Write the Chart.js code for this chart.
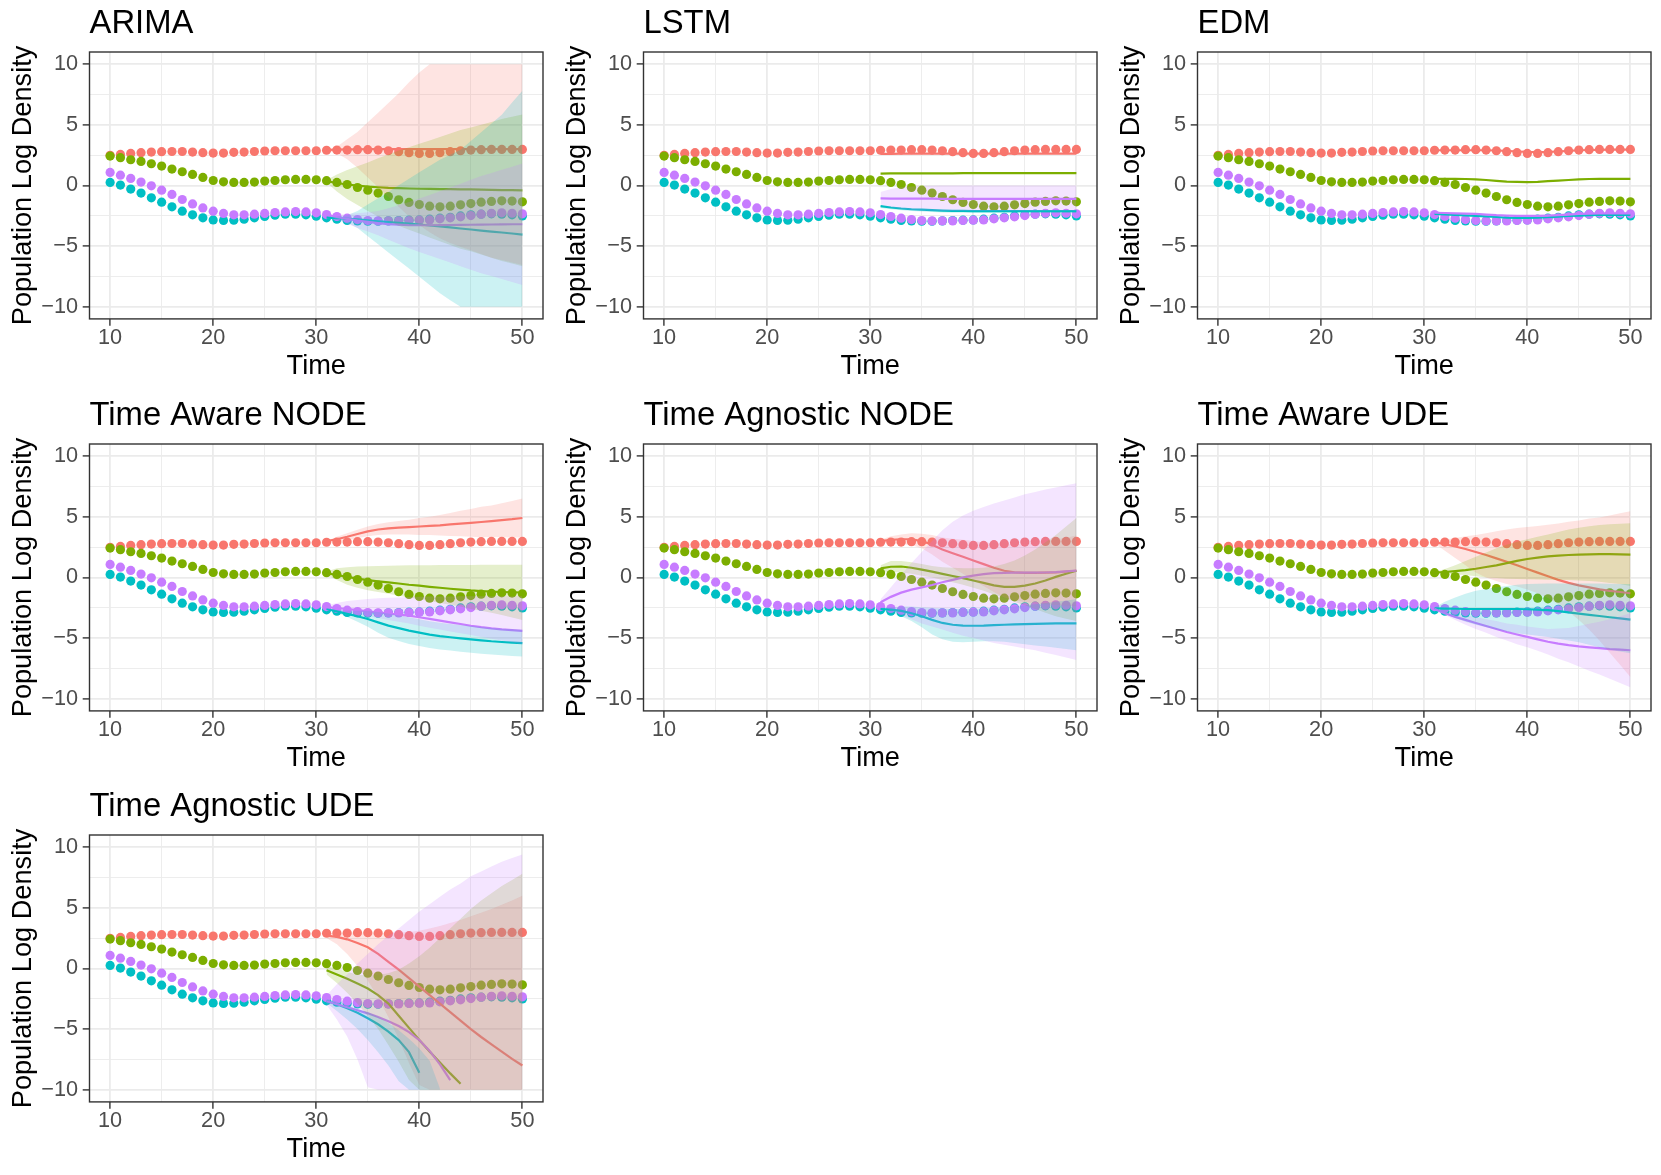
<!DOCTYPE html>
<html>
<head>
<meta charset="utf-8">
<script src="https://cdn.jsdelivr.net/npm/chart.js@4.4.1/dist/chart.umd.min.js"></script>
<style>
html,body{margin:0;padding:0;background:#ffffff;}
body{width:1661px;height:1175px;position:relative;overflow:hidden;}
.cell{position:absolute;width:554px;height:392px;}
</style>
</head>
<body>
<script>
// ---------- data ----------
const obsTime = [10,11,12,13,14,15,16,17,18,19,20,21,22,23,24,25,26,27,28,29,30,31,32,33,34,35,36,37,38,39,40,41,42,43,44,45,46,47,48,49,50];
const fcTime = [31,32,33,34,35,36,37,38,39,40,41,42,43,44,45,46,47,48,49,50];

const obsRed    = [2.48,2.56,2.64,2.70,2.75,2.78,2.80,2.80,2.75,2.70,2.67,2.67,2.73,2.75,2.80,2.84,2.86,2.86,2.86,2.86,2.86,2.90,2.92,2.92,2.95,2.95,2.92,2.86,2.78,2.70,2.64,2.64,2.70,2.78,2.86,2.92,2.95,2.97,2.97,2.97,2.97];
const obsGreen  = [2.42,2.29,2.12,1.98,1.79,1.60,1.35,1.13,0.91,0.66,0.41,0.30,0.25,0.25,0.28,0.36,0.41,0.47,0.50,0.50,0.47,0.39,0.25,0.08,-0.17,-0.39,-0.63,-0.91,-1.18,-1.40,-1.57,-1.71,-1.76,-1.71,-1.60,-1.49,-1.38,-1.32,-1.27,-1.29,-1.35];
const obsCyan   = [0.25,0.03,-0.30,-0.63,-1.02,-1.38,-1.76,-2.12,-2.42,-2.67,-2.84,-2.89,-2.86,-2.78,-2.67,-2.56,-2.45,-2.37,-2.37,-2.42,-2.53,-2.67,-2.78,-2.89,-2.92,-2.95,-2.95,-2.92,-2.89,-2.86,-2.84,-2.78,-2.70,-2.62,-2.51,-2.42,-2.37,-2.34,-2.37,-2.42,-2.51];
const obsPurple = [1.07,0.85,0.58,0.28,-0.03,-0.39,-0.74,-1.16,-1.52,-1.85,-2.12,-2.31,-2.42,-2.42,-2.37,-2.31,-2.23,-2.18,-2.15,-2.18,-2.26,-2.40,-2.56,-2.70,-2.81,-2.89,-2.92,-2.92,-2.92,-2.89,-2.86,-2.84,-2.75,-2.67,-2.59,-2.48,-2.37,-2.29,-2.26,-2.29,-2.34];

const panelTitles = ['ARIMA','LSTM','EDM','Time Aware NODE','Time Agnostic NODE','Time Aware UDE','Time Agnostic UDE'];
const speciesColors = ['#F8766D','#7CAE00','#00BFC4','#C77CFF'];
const xTickValues = [10,15,20,25,30,35,40,45,50];
const yTickValues = [-10,-7.5,-5,-2.5,0,2.5,5,7.5,10];
const xTickLabels = {'10':'10','20':'20','30':'30','40':'40','50':'50'};
const yTickLabels = {'-10':'\u221210','-5':'\u22125','0':'0','5':'5','10':'10'};

// ARIMA
const arimaRedMean = [2.92,2.95,2.97,2.98,2.99,3.0,3.0,3.0,3.0,3.0,3.0,3.0,3.0,3.0,3.0,3.0,3.0,3.0,3.0,3.0];
const arimaRedHi   = [2.95,3.2,3.8,4.4,5.2,6.0,6.8,7.6,8.5,9.3,10,10,10,10,10,10,10,10,10,10];
const arimaRedLo   = [2.85,2.65,2.15,1.45,0.65,-0.15,-0.95,-1.75,-2.55,-3.25,-3.85,-4.35,-4.75,-5.05,-5.35,-5.65,-5.95,-6.15,-6.35,-6.55];
const arimaGreenMean = [0.35,0.2,0.08,-0.02,-0.1,-0.15,-0.2,-0.22,-0.25,-0.27,-0.29,-0.3,-0.31,-0.32,-0.33,-0.35,-0.36,-0.38,-0.39,-0.4];
const arimaGreenHi   = [0.45,0.9,1.28,1.58,1.9,2.25,2.55,2.88,3.15,3.43,3.71,4.0,4.29,4.58,4.77,5.0,5.24,5.47,5.66,5.85];
const arimaGreenLo   = [0.25,-0.5,-1.12,-1.62,-2.1,-2.55,-2.95,-3.32,-3.65,-3.97,-4.29,-4.6,-4.91,-5.22,-5.43,-5.7,-5.96,-6.23,-6.44,-6.65];
const arimaCyanMean = [-2.65,-2.7,-2.75,-2.8,-2.88,-2.95,-3.02,-3.08,-3.15,-3.22,-3.3,-3.38,-3.46,-3.55,-3.63,-3.72,-3.8,-3.88,-3.96,-4.05];
const arimaCyanHi   = [-2.6,-2.55,-2.45,-2.1,-1.58,-1.05,-0.52,0.02,0.55,1.08,1.6,2.12,2.54,2.95,3.67,4.38,5.1,5.82,6.84,7.8];
const arimaCyanLo   = [-2.7,-2.85,-3.05,-3.5,-4.18,-4.85,-5.52,-6.18,-6.85,-7.52,-8.2,-8.88,-9.46,-10,-10,-10,-10,-10,-10,-10];
const arimaPurpleMean = [-2.4,-2.6,-2.75,-2.9,-3.0,-3.1,-3.18,-3.23,-3.27,-3.28,-3.28,-3.27,-3.26,-3.25,-3.24,-3.23,-3.22,-3.21,-3.2,-3.2];
const arimaPurpleHi   = [-2.4,-2.4,-2.35,-2.3,-2.2,-2.1,-1.88,-1.63,-1.37,-1.08,-0.78,-0.47,-0.16,0.15,0.46,0.77,1.03,1.29,1.55,1.8];
const arimaPurpleLo   = [-2.4,-2.8,-3.15,-3.5,-3.8,-4.1,-4.48,-4.83,-5.17,-5.48,-5.78,-6.07,-6.36,-6.65,-6.94,-7.23,-7.47,-7.71,-7.95,-8.2];

// LSTM
const lstmRedMean = [2.6,2.61,2.62,2.62,2.62,2.62,2.62,2.62,2.62,2.62,2.62,2.62,2.62,2.62,2.62,2.63,2.63,2.63,2.63,2.63];
const lstmGreenMean = [0.97,0.99,1.0,1.0,1.0,1.0,1.0,1.0,1.01,1.01,1.01,1.01,1.01,1.01,1.02,1.02,1.02,1.02,1.02,1.02];
const lstmCyanMean = [-1.7,-1.82,-1.9,-1.96,-2.0,-2.04,-2.07,-2.09,-2.1,-2.12,-2.12,-2.12,-2.12,-2.12,-2.12,-2.12,-2.12,-2.12,-2.12,-2.12];
const lstmCyanHi   = [-1.64,-1.76,-1.84,-1.9,-1.94,-1.98,-2.01,-2.03,-2.04,-2.06,-2.06,-2.06,-2.06,-2.06,-2.06,-2.06,-2.06,-2.06,-2.06,-2.06];
const lstmCyanLo   = [-1.85,-1.97,-2.05,-2.11,-2.15,-2.19,-2.22,-2.24,-2.25,-2.27,-2.27,-2.27,-2.27,-2.27,-2.27,-2.27,-2.27,-2.27,-2.27,-2.27];
const lstmPurpleMean = [-1.07,-1.08,-1.08,-1.09,-1.09,-1.09,-1.1,-1.1,-1.1,-1.1,-1.1,-1.1,-1.1,-1.1,-1.1,-1.1,-1.1,-1.1,-1.1,-1.1];
const lstmPurpleHi   = [-0.55,-0.3,-0.15,-0.08,-0.04,-0.02,0,0,0,0,0,0,0,0,0,0,0,0,0,0];
const lstmPurpleLo   = [-1.6,-1.8,-1.95,-2.02,-2.06,-2.08,-2.1,-2.1,-2.1,-2.1,-2.1,-2.1,-2.1,-2.1,-2.1,-2.1,-2.1,-2.1,-2.1,-2.1];

// EDM
const edmRedMean = [2.9,2.9,2.9,2.9,2.9,2.9,2.88,2.85,2.8,2.76,2.74,2.76,2.8,2.85,2.9,2.92,2.94,2.95,2.95,2.95];
const edmGreenMean = [0.55,0.55,0.55,0.53,0.5,0.45,0.38,0.32,0.3,0.28,0.3,0.35,0.4,0.45,0.5,0.53,0.55,0.55,0.55,0.55];
const edmCyanMean = [-2.35,-2.38,-2.42,-2.46,-2.5,-2.55,-2.6,-2.65,-2.67,-2.67,-2.65,-2.62,-2.57,-2.52,-2.48,-2.45,-2.43,-2.42,-2.42,-2.42];
const edmPurpleMean = [-2.25,-2.27,-2.3,-2.32,-2.35,-2.4,-2.45,-2.48,-2.5,-2.5,-2.5,-2.48,-2.45,-2.4,-2.35,-2.32,-2.3,-2.3,-2.3,-2.3];

// Time Aware NODE
const tanodeRedMean = [3.0,3.15,3.35,3.58,3.8,3.95,4.05,4.1,4.15,4.2,4.25,4.3,4.37,4.44,4.5,4.57,4.64,4.72,4.8,4.9];
const tanodeRedHi   = [3.0,3.35,3.65,3.93,4.2,4.4,4.55,4.65,4.75,4.9,5.0,5.15,5.32,5.49,5.65,5.82,5.94,6.12,6.3,6.5];
const tanodeRedLo   = [3.0,2.95,3.05,3.23,3.4,3.5,3.55,3.55,3.55,3.5,3.5,3.45,3.42,3.39,3.35,3.32,3.34,3.32,3.3,3.3];
const tanodeGreenMean = [0.35,0.2,0.05,-0.1,-0.22,-0.32,-0.41,-0.5,-0.6,-0.68,-0.77,-0.85,-0.93,-1.0,-1.07,-1.12,-1.17,-1.2,-1.22,-1.24];
const tanodeGreenHi   = [0.5,0.75,0.85,0.9,0.92,0.95,0.97,0.98,1.0,1.0,1.0,1.02,1.02,1.03,1.03,1.04,1.04,1.05,1.05,1.05];
const tanodeGreenLo   = [0.2,-0.2,-0.6,-0.85,-1.05,-1.2,-1.35,-1.5,-1.65,-1.8,-1.95,-2.1,-2.25,-2.4,-2.6,-2.75,-2.9,-3.1,-3.3,-3.5];
const tanodeCyanMean = [-2.6,-2.8,-3.0,-3.2,-3.42,-3.7,-3.97,-4.18,-4.38,-4.55,-4.71,-4.83,-4.93,-5.02,-5.1,-5.18,-5.26,-5.32,-5.37,-5.42];
const tanodeCyanHi   = [-2.6,-2.7,-2.75,-2.75,-2.77,-2.85,-2.97,-3.13,-3.28,-3.45,-3.61,-3.73,-3.83,-3.92,-4.0,-4.08,-4.16,-4.22,-4.27,-4.32];
const tanodeCyanLo   = [-2.6,-2.9,-3.25,-3.65,-4.07,-4.55,-4.97,-5.23,-5.48,-5.65,-5.81,-5.93,-6.03,-6.12,-6.2,-6.28,-6.36,-6.42,-6.47,-6.52];
const tanodePurpleMean = [-2.45,-2.52,-2.6,-2.7,-2.79,-2.88,-2.97,-3.06,-3.15,-3.28,-3.42,-3.56,-3.7,-3.84,-3.98,-4.1,-4.2,-4.28,-4.34,-4.4];
const tanodePurpleHi   = [-2.3,-2.1,-1.95,-1.85,-1.78,-1.72,-1.68,-1.65,-1.62,-1.6,-1.58,-1.57,-1.56,-1.55,-1.55,-1.55,-1.55,-1.55,-1.55,-1.55];
const tanodePurpleLo   = [-2.6,-2.75,-2.9,-3.05,-3.2,-3.35,-3.5,-3.65,-3.8,-3.98,-4.15,-4.3,-4.45,-4.6,-4.75,-4.9,-5.05,-5.2,-5.35,-5.5];

// Time Agnostic NODE
const tagnodeRedMean = [3.0,3.1,3.15,3.15,3.0,2.7,2.3,2.0,1.7,1.4,1.1,0.8,0.55,0.42,0.38,0.38,0.4,0.42,0.48,0.55];
const tagnodeRedHi   = [3.1,3.4,3.55,3.65,3.6,3.5,3.3,3.2,3.1,3.0,2.9,2.8,2.75,2.72,2.78,2.88,3.0,3.12,3.28,3.45];
const tagnodeRedLo   = [2.9,2.8,2.75,2.65,2.4,1.9,1.3,0.8,0.3,-0.2,-0.7,-1.2,-1.65,-1.88,-2.02,-2.12,-2.2,-2.28,-2.32,-2.35];
const tagnodeGreenMean = [0.75,0.88,0.9,0.8,0.65,0.48,0.3,0.12,-0.05,-0.25,-0.45,-0.65,-0.77,-0.78,-0.68,-0.5,-0.25,0.05,0.3,0.55];
const tagnodeGreenHi   = [1.0,1.35,1.35,1.25,1.1,0.95,0.85,0.8,0.75,0.75,0.8,0.9,1.1,1.4,1.8,2.3,2.9,3.5,4.2,4.9];
const tagnodeGreenLo   = [0.5,0.45,0.4,0.3,0.15,0.0,-0.2,-0.4,-0.6,-0.85,-1.1,-1.4,-1.7,-2.0,-2.3,-2.6,-2.9,-3.2,-3.4,-3.6];
const tagnodeCyanMean = [-2.6,-2.65,-2.75,-2.95,-3.2,-3.5,-3.75,-3.9,-3.97,-3.98,-3.97,-3.93,-3.9,-3.87,-3.84,-3.82,-3.8,-3.79,-3.78,-3.78];
const tagnodeCyanHi   = [-2.5,-2.45,-2.4,-2.4,-2.45,-2.5,-2.55,-2.6,-2.6,-2.6,-2.55,-2.5,-2.45,-2.4,-2.3,-2.2,-2.1,-2.0,-1.9,-1.8];
const tagnodeCyanLo   = [-2.7,-2.9,-3.2,-3.6,-4.1,-4.7,-5.1,-5.3,-5.35,-5.3,-5.25,-5.25,-5.3,-5.4,-5.5,-5.6,-5.7,-5.8,-5.9,-6.0];
const tagnodePurpleMean = [-2.05,-1.6,-1.25,-1.0,-0.82,-0.62,-0.4,-0.2,0.0,0.15,0.28,0.35,0.38,0.39,0.39,0.4,0.41,0.44,0.5,0.56];
const tagnodePurpleHi   = [-1.8,-0.8,0.2,1.2,2.1,3.0,3.9,4.6,5.1,5.5,5.8,6.1,6.35,6.6,6.85,7.05,7.25,7.42,7.6,7.77];
const tagnodePurpleLo   = [-2.3,-2.7,-3.1,-3.45,-3.8,-4.05,-4.3,-4.55,-4.8,-5.0,-5.2,-5.4,-5.55,-5.7,-5.85,-6.0,-6.2,-6.4,-6.6,-6.8];

// Time Aware UDE
const taudeRedMean = [2.9,2.75,2.55,2.35,2.1,1.85,1.57,1.3,1.0,0.7,0.4,0.1,-0.2,-0.45,-0.65,-0.82,-0.98,-1.1,-1.2,-1.3];
const taudeRedHi   = [2.95,3.1,3.25,3.4,3.5,3.65,3.8,3.95,4.08,4.15,4.25,4.35,4.45,4.6,4.7,4.85,4.95,5.1,5.3,5.45];
const taudeRedLo   = [2.8,2.2,1.6,1.0,0.4,0.0,-0.3,-0.55,-0.75,-1.0,-1.3,-1.7,-2.2,-2.8,-3.5,-4.3,-5.2,-6.2,-7.2,-8.2];
const taudeGreenMean = [0.4,0.45,0.52,0.6,0.72,0.86,1.0,1.18,1.36,1.52,1.63,1.73,1.8,1.85,1.88,1.9,1.92,1.92,1.9,1.88];
const taudeGreenHi   = [0.45,0.7,1.0,1.35,1.7,2.05,2.4,2.7,2.95,3.15,3.35,3.55,3.75,3.95,4.1,4.22,4.32,4.38,4.43,4.47];
const taudeGreenLo   = [0.35,0.3,0.25,0.2,0.1,0.0,-0.05,-0.1,-0.12,-0.14,-0.16,-0.18,-0.2,-0.22,-0.25,-0.3,-0.35,-0.45,-0.55,-0.7];
const taudeCyanMean = [-2.55,-2.57,-2.58,-2.6,-2.6,-2.6,-2.6,-2.6,-2.6,-2.62,-2.65,-2.7,-2.78,-2.88,-2.98,-3.08,-3.18,-3.28,-3.38,-3.48];
const taudeCyanHi   = [-2.45,-2.0,-1.65,-1.35,-1.1,-0.95,-0.8,-0.7,-0.6,-0.55,-0.52,-0.5,-0.5,-0.5,-0.5,-0.5,-0.5,-0.52,-0.53,-0.55];
const taudeCyanLo   = [-2.65,-3.0,-3.35,-3.65,-3.9,-4.1,-4.3,-4.45,-4.6,-4.7,-4.8,-4.9,-5.05,-5.2,-5.35,-5.55,-5.75,-5.95,-6.1,-6.25];
const taudePurpleMean = [-2.6,-2.95,-3.25,-3.5,-3.75,-4.0,-4.25,-4.5,-4.7,-4.9,-5.1,-5.3,-5.45,-5.58,-5.68,-5.76,-5.83,-5.9,-5.95,-6.0];
const taudePurpleHi   = [-2.5,-2.8,-3.0,-3.1,-3.25,-3.45,-3.6,-3.8,-3.9,-4.05,-4.15,-4.25,-4.2,-4.16,-4.0,-3.82,-3.66,-3.45,-3.2,-2.95];
const taudePurpleLo   = [-2.7,-3.1,-3.5,-3.9,-4.25,-4.55,-4.9,-5.2,-5.5,-5.75,-6.05,-6.35,-6.7,-7.0,-7.35,-7.7,-8.0,-8.35,-8.7,-9.05];

// Time Agnostic UDE
const tagudeRedMean = [2.7,2.6,2.4,2.1,1.75,1.2,0.55,-0.1,-0.8,-1.5,-2.2,-2.9,-3.6,-4.3,-5.0,-5.65,-6.25,-6.85,-7.45,-8.0];
const tagudeRedHi   = [2.9,2.95,2.95,2.95,2.95,2.95,2.95,2.95,3.0,3.1,3.3,3.5,3.75,4.0,4.3,4.6,4.9,5.25,5.6,6.0];
const tagudeRedLo   = [2.5,2.0,1.2,0.2,-1.0,-2.4,-4.0,-5.8,-7.8,-9.6,-10,-10,-10,-10,-10,-10,-10,-10,-10,-10];
const tagudeGreenMean = [-0.15,-0.5,-0.85,-1.25,-1.65,-2.2,-2.9,-3.9,-4.9,-5.9,-6.85,-7.75,-8.65,-9.5,null,null,null,null,null,null];
const tagudeGreenHi   = [0.2,0.0,-0.3,-0.5,-0.6,-0.55,-0.4,-0.1,0.4,1.0,1.7,2.5,3.3,4.1,4.9,5.6,6.2,6.8,7.3,7.8];
const tagudeGreenLo   = [-0.5,-1.2,-2.0,-2.9,-3.9,-5.0,-6.3,-7.7,-9.2,-10,-10,-10,-10,-10,-10,-10,-10,-10,-10,-10];
const tagudeCyanMean = [-2.68,-2.95,-3.28,-3.65,-4.1,-4.6,-5.2,-5.9,-6.9,-8.6,null,null,null,null,null,null,null,null,null,null];
const tagudeCyanHi   = [-2.5,-2.75,-3.05,-3.35,-3.6,-4.0,-4.5,-5.1,-5.8,-6.6,-7.6,-9.9,null,null,null,null,null,null,null,null];
const tagudeCyanLo   = [-2.85,-3.5,-4.2,-5.0,-5.9,-6.9,-8.0,-9.3,-10,-10,-10,-10,null,null,null,null,null,null,null,null];
const tagudePurpleMean = [-2.7,-2.95,-3.2,-3.45,-3.7,-4.0,-4.35,-4.75,-5.25,-5.9,-6.8,-7.9,-9.2,null,null,null,null,null,null,null];
const tagudePurpleHi   = [-2.2,-1.3,-0.5,0.4,1.2,2.0,2.7,3.3,4.0,4.7,5.3,5.9,6.5,7.0,7.6,8.0,8.4,8.8,9.1,9.4];
const tagudePurpleLo   = [-3.0,-4.2,-5.6,-7.5,-9.8,-10,-10,-10,-10,-10,-10,-10,-10,-10,-10,-10,-10,-10,-10,-10];

// ---------- panels built from the arrays ----------
const panels = [
  {title: panelTitles[0], mean:[arimaRedMean,arimaGreenMean,arimaCyanMean,arimaPurpleMean], lo:[arimaRedLo,arimaGreenLo,arimaCyanLo,arimaPurpleLo], hi:[arimaRedHi,arimaGreenHi,arimaCyanHi,arimaPurpleHi]},
  {title: panelTitles[1], mean:[lstmRedMean,lstmGreenMean,lstmCyanMean,lstmPurpleMean], lo:[null,null,lstmCyanLo,lstmPurpleLo], hi:[null,null,lstmCyanHi,lstmPurpleHi]},
  {title: panelTitles[2], mean:[edmRedMean,edmGreenMean,edmCyanMean,edmPurpleMean], lo:[null,null,null,null], hi:[null,null,null,null]},
  {title: panelTitles[3], mean:[tanodeRedMean,tanodeGreenMean,tanodeCyanMean,tanodePurpleMean], lo:[tanodeRedLo,tanodeGreenLo,tanodeCyanLo,tanodePurpleLo], hi:[tanodeRedHi,tanodeGreenHi,tanodeCyanHi,tanodePurpleHi]},
  {title: panelTitles[4], mean:[tagnodeRedMean,tagnodeGreenMean,tagnodeCyanMean,tagnodePurpleMean], lo:[tagnodeRedLo,tagnodeGreenLo,tagnodeCyanLo,tagnodePurpleLo], hi:[tagnodeRedHi,tagnodeGreenHi,tagnodeCyanHi,tagnodePurpleHi]},
  {title: panelTitles[5], mean:[taudeRedMean,taudeGreenMean,taudeCyanMean,taudePurpleMean], lo:[taudeRedLo,taudeGreenLo,taudeCyanLo,taudePurpleLo], hi:[taudeRedHi,taudeGreenHi,taudeCyanHi,taudePurpleHi]},
  {title: panelTitles[6], mean:[tagudeRedMean,tagudeGreenMean,tagudeCyanMean,tagudePurpleMean], lo:[tagudeRedLo,tagudeGreenLo,tagudeCyanLo,tagudePurpleLo], hi:[tagudeRedHi,tagudeGreenHi,tagudeCyanHi,tagudePurpleHi]}
];

// ---------- styling ----------
const FONT = "'Liberation Sans', Arial, Helvetica, sans-serif";
const cellLeft = [0, 554, 1108];
const cellTop = [0, 392, 783];

function rgba(hex, a) {
  const n = parseInt(hex.slice(1), 16);
  return 'rgba(' + ((n >> 16) & 255) + ',' + ((n >> 8) & 255) + ',' + (n & 255) + ',' + a + ')';
}
function pts(xs, ys) { return xs.map((x, i) => ({x: x, y: ys[i]})); }
function isMajorX(c) { return c.tick && Math.abs(c.tick.value % 10) < 1e-9; }
function isMajorY(c) { return c.tick && Math.abs(c.tick.value % 5) < 1e-9; }

const panelBorder = {
  id: 'panelBorder',
  afterDraw(chart) {
    const a = chart.chartArea, ctx = chart.ctx;
    ctx.save();
    ctx.strokeStyle = '#333333';
    ctx.lineWidth = 1.4;
    ctx.strokeRect(a.left, a.top, a.right - a.left, a.bottom - a.top);
    ctx.restore();
  }
};

function buildDatasets(p) {
  const ds = [];
  const obs = [obsRed, obsGreen, obsCyan, obsPurple];
  obs.forEach((v, k) => ds.push({
    data: pts(obsTime, v), showLine: false, fill: false,
    pointRadius: 4.6, pointHoverRadius: 4.6, pointBorderWidth: 0,
    pointBackgroundColor: speciesColors[k], pointBorderColor: 'rgba(0,0,0,0)',
    borderColor: 'rgba(0,0,0,0)', order: 40 - k
  }));
  p.mean.forEach((v, k) => ds.push({
    data: pts(fcTime, v), borderColor: speciesColors[k], borderWidth: 2.2,
    pointRadius: 0, fill: false, spanGaps: false, order: 30 - k
  }));
  p.lo.forEach((lo, k) => {
    if (!lo) return;
    ds.push({data: pts(fcTime, lo), borderColor: 'rgba(0,0,0,0)', borderWidth: 0, pointRadius: 0, fill: false, spanGaps: false, order: 20 - k});
    ds.push({data: pts(fcTime, p.hi[k]), borderColor: 'rgba(0,0,0,0)', borderWidth: 0, pointRadius: 0, spanGaps: false,
             fill: '-1', backgroundColor: rgba(speciesColors[k], 0.2), order: 20 - k});
  });
  return ds;
}

function buildOptions(title) {
  return {
    responsive: false, animation: false, events: [],
    layout: {padding: {left: 0, right: 11, top: 0, bottom: 0}},
    plugins: {
      legend: {display: false},
      tooltip: {enabled: false},
      title: {display: true, text: title, align: 'start', fullSize: false, color: '#000000',
              font: {family: FONT, size: 32.8, weight: 'normal', lineHeight: 1.2},
              padding: {top: 4.0, bottom: 8.64}}
    },
    scales: {
      x: {
        type: 'linear', min: 8, max: 52,
        afterBuildTicks: s => { s.ticks = xTickValues.map(v => ({value: v})); },
        afterFit: s => { s.height = 73.1; },
        ticks: {autoSkip: false, maxRotation: 0, minRotation: 0, padding: 1.6, color: '#4D4D4D',
                font: {family: FONT, size: 21.7, lineHeight: 1.0},
                callback: v => xTickLabels[String(v)] || ''},
        grid: {color: '#EBEBEB', lineWidth: c => isMajorX(c) ? 1.8 : 0.9, drawTicks: true, tickLength: 6.8,
               tickColor: c => isMajorX(c) ? '#333333' : 'rgba(0,0,0,0)', tickWidth: 1.4},
        border: {display: false},
        title: {display: true, text: 'Time', color: '#000000',
                font: {family: FONT, size: 27.2, lineHeight: 1.2}, padding: {top: 0, bottom: 9.4}}
      },
      y: {
        type: 'linear', min: -11, max: 11,
        afterBuildTicks: s => { s.ticks = yTickValues.map(v => ({value: v})); },
        afterFit: s => { s.width = 89.5; },
        ticks: {autoSkip: false, padding: 4.7, color: '#4D4D4D',
                font: {family: FONT, size: 21.7, lineHeight: 1.0},
                callback: v => yTickLabels[String(v)] || ''},
        grid: {color: '#EBEBEB', lineWidth: c => isMajorY(c) ? 1.8 : 0.9, drawTicks: true, tickLength: 6.8,
               tickColor: c => isMajorY(c) ? '#333333' : 'rgba(0,0,0,0)', tickWidth: 1.4},
        border: {display: false},
        title: {display: true, text: 'Population Log Density', color: '#000000',
                font: {family: FONT, size: 27.2, lineHeight: 1.2}, padding: {top: 6.8, bottom: 0}}
      }
    }
  };
}

panels.forEach((p, i) => {
  const col = i % 3, row = Math.floor(i / 3);
  const div = document.createElement('div');
  div.className = 'cell';
  div.style.left = cellLeft[col] + 'px';
  div.style.top = cellTop[row] + 'px';
  const cv = document.createElement('canvas');
  cv.width = 554; cv.height = 392;
  cv.style.width = '554px'; cv.style.height = '392px';
  div.appendChild(cv);
  document.body.appendChild(div);
  new Chart(cv.getContext('2d'), {
    type: 'line',
    data: {datasets: buildDatasets(p)},
    options: buildOptions(p.title),
    plugins: [panelBorder]
  });
});
</script>
</body>
</html>
